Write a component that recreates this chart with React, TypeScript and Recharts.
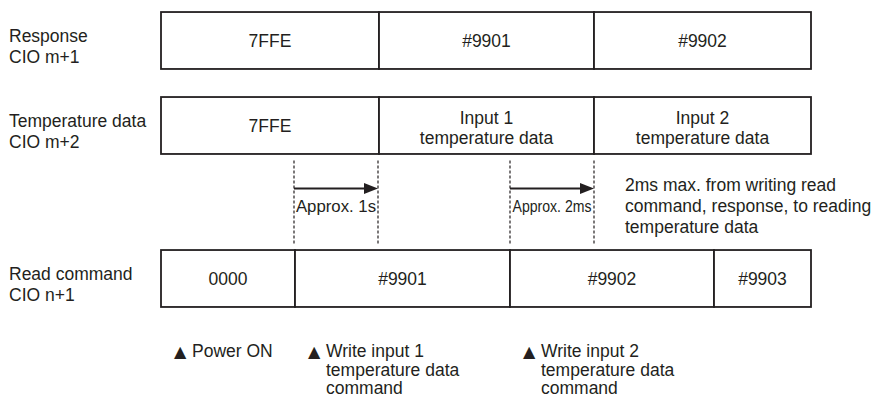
import React from "react";
import {
  ComposedChart,
  XAxis,
  YAxis,
  ReferenceArea,
  ReferenceLine,
  ReferenceDot,
  Scatter,
} from "recharts";

// ---------- data ----------
const rowNames = [
  ["Response", "CIO m+1"],
  ["Temperature data", "CIO m+2"],
  ["Read command", "CIO n+1"],
];
const rowLanes = [0, 1, 2.8];

const responseEdges = [0, 218, 433, 650];
const responseValues = [["7FFE"], ["#9901"], ["#9902"]];

const temperatureEdges = [0, 218, 433, 650];
const temperatureValues = [
  ["7FFE"],
  ["Input 1", "temperature data"],
  ["Input 2", "temperature data"],
];

const readEdges = [0, 134, 349, 553, 650];
const readValues = [["0000"], ["#9901"], ["#9902"], ["#9903"]];

const intervalStarts = [133, 349];
const intervalEnds = [217, 433];
const intervalLabels = ["Approx. 1s", "Approx. 2ms"];

const eventTimes = [0, 134, 349];
const eventLabels = [
  ["Power ON"],
  ["Write input 1", "temperature data", "command"],
  ["Write input 2", "temperature data", "command"],
];

const noteTime = 464;
const noteLines = [
  "2ms max. from writing read",
  "command, response, to reading",
  "temperature data",
];

// ---------- layout / style ----------
const W = 877;
const H = 401;
const FONT = "'Liberation Sans', Arial, Helvetica, sans-serif";
const INK = "#231f20";
const FS = 17.5;
const ROW_HALF = 0.335;
const ARROW_LANE = 1.741;
const DASH_TOP = 1.412;
const DASH_BOTTOM = 2.4;
const INTERVAL_TEXT_LANE = 2.012;
const NOTE_LANE = 1.77;
const EVENT_LANE = 3.724;
const LABEL_X = 9;
const CONDENSED = new Set(["Approx. 2ms"]);

const rows = [
  { lane: rowLanes[0], edges: responseEdges, values: responseValues },
  { lane: rowLanes[1], edges: temperatureEdges, values: temperatureValues },
  { lane: rowLanes[2], edges: readEdges, values: readValues },
];

const segments = rows.flatMap((r, ri) =>
  r.values.map((lines, i) => ({
    key: `${ri}-${i}`,
    x1: r.edges[i],
    x2: r.edges[i + 1],
    y1: r.lane - ROW_HALF,
    y2: r.lane + ROW_HALF,
    lines,
  }))
);

const events = eventTimes.map((t, i) => ({ t, lane: EVENT_LANE, lines: eventLabels[i] }));

const SegmentShape = (props: any) => {
  const { x, y, width, height, lines } = props;
  const cx = x + width / 2;
  const cy = y + height / 2;
  const n = lines.length;
  return (
    <g>
      <rect x={x} y={y} width={width} height={height} fill="#fff" stroke={INK} strokeWidth={1.8} />
      <text textAnchor="middle" fontFamily={FONT} fontSize={FS} fill={INK}>
        {lines.map((l: string, i: number) => (
          <tspan key={i} x={cx} y={cy + 6 + (i - (n - 1) / 2) * 20 + (n > 1 ? 2 : 0)}>
            {l}
          </tspan>
        ))}
      </text>
    </g>
  );
};

const RowTick = (props: any) => {
  const { y, payload } = props;
  const idx = rowLanes.indexOf(payload.value);
  if (idx < 0) return null;
  return (
    <text fontFamily={FONT} fontSize={FS} fill={INK}>
      {rowNames[idx].map((l, i) => (
        <tspan key={i} x={LABEL_X} y={y + 1.5 + i * 20.5}>
          {l}
        </tspan>
      ))}
    </text>
  );
};

const ArrowShape = (props: any) => {
  const { x1, y1, x2 } = props;
  return (
    <g>
      <line x1={x1} y1={y1} x2={x2 - 12} y2={y1} stroke={INK} strokeWidth={1.8} />
      <polygon points={`${x2},${y1} ${x2 - 14},${y1 - 5.5} ${x2 - 14},${y1 + 5.5}`} fill={INK} />
    </g>
  );
};

const DashShape = (props: any) => {
  const { x1, y1, x2, y2 } = props;
  return <line x1={x1} y1={y1} x2={x2} y2={y2} stroke={INK} strokeWidth={1.2} strokeDasharray="3 2" />;
};

const EventShape = (props: any) => {
  const { cx, cy, payload } = props;
  return (
    <g>
      <text x={cx + 13} y={cy - 0.5} fontFamily="'DejaVu Sans', sans-serif" fontSize={16} fill={INK}>
        ▲
      </text>
      <text fontFamily={FONT} fontSize={FS} fill={INK}>
        {payload.lines.map((l: string, i: number) => (
          <tspan key={i} x={cx + 31} y={cy + i * 18.7}>
            {l}
          </tspan>
        ))}
      </text>
    </g>
  );
};

export default function App() {
  return (
    <div style={{ position: "absolute", left: 0, top: 0, background: "#fff" }}>
      <ComposedChart
        width={W}
        height={H}
        data={events}
        margin={{ top: 6.5, right: 66, bottom: 3.5, left: 9 }}
      >
        <XAxis type="number" dataKey="t" domain={[0, 650]} hide allowDataOverflow />
        <YAxis
          type="number"
          dataKey="lane"
          domain={[-0.4, 4.2]}
          reversed
          width={152}
          ticks={rowLanes}
          interval={0}
          axisLine={false}
          tickLine={false}
          tick={<RowTick />}
          allowDataOverflow
        />
        {segments.map((s) => (
          <ReferenceArea
            key={s.key}
            x1={s.x1}
            x2={s.x2}
            y1={s.y1}
            y2={s.y2}
            ifOverflow="visible"
            shape={(p: any) => <SegmentShape {...p} lines={s.lines} />}
          />
        ))}
        {intervalStarts.map((t, i) => (
          <ReferenceLine
            key={`ds-${i}`}
            segment={[{ x: t, y: DASH_TOP }, { x: t, y: DASH_BOTTOM }]}
            ifOverflow="visible"
            shape={DashShape}
          />
        ))}
        {intervalEnds.map((t, i) => (
          <ReferenceLine
            key={`de-${i}`}
            segment={[{ x: t, y: DASH_TOP }, { x: t, y: DASH_BOTTOM }]}
            ifOverflow="visible"
            shape={DashShape}
          />
        ))}
        {intervalStarts.map((t, i) => (
          <ReferenceLine
            key={`ar-${i}`}
            segment={[{ x: t, y: ARROW_LANE }, { x: intervalEnds[i], y: ARROW_LANE }]}
            ifOverflow="visible"
            shape={ArrowShape}
          />
        ))}
        {intervalLabels.map((label, i) => (
          <ReferenceDot
            key={`il-${i}`}
            x={(intervalStarts[i] + intervalEnds[i]) / 2}
            y={INTERVAL_TEXT_LANE}
            ifOverflow="visible"
            shape={(p: any) => (
              <text
                x={p.cx}
                y={p.cy}
                textAnchor="middle"
                fontFamily={FONT}
                fontSize={16.8}
                fill={INK}
                {...(CONDENSED.has(label) ? { textLength: 79, lengthAdjust: "spacingAndGlyphs" } : {})}
              >
                {label}
              </text>
            )}
          />
        ))}
        <ReferenceDot
          x={noteTime}
          y={NOTE_LANE}
          ifOverflow="visible"
          shape={(p: any) => (
            <text fontFamily={FONT} fontSize={FS} fill={INK}>
              {noteLines.map((l, i) => (
                <tspan key={i} x={p.cx} y={p.cy + i * 21}>
                  {l}
                </tspan>
              ))}
            </text>
          )}
        />
        <Scatter data={events} dataKey="lane" isAnimationActive={false} shape={EventShape} />
      </ComposedChart>
    </div>
  );
}
